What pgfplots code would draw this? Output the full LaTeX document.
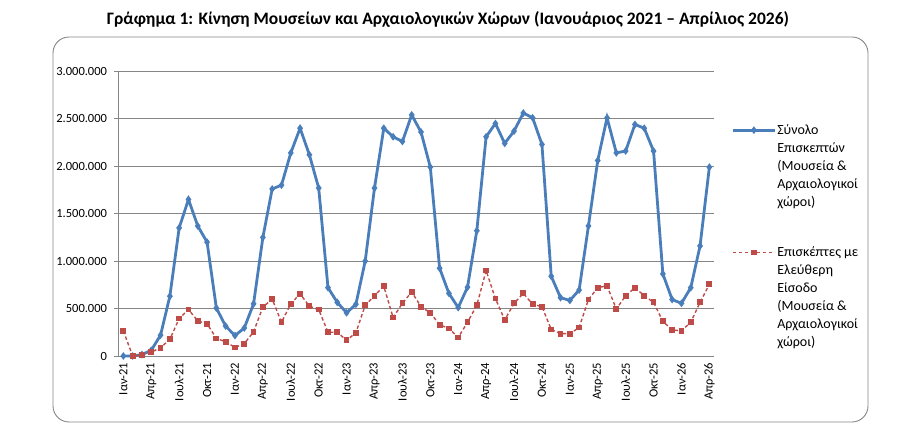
\documentclass[border=0pt]{standalone}
\usepackage{pgfplots}
\pgfplotsset{compat=1.18}
\usepackage{pgfplotstable}
\usepackage{fontspec}
\setmainfont{Carlito}
\definecolor{myblue}{HTML}{4A7EBB}
\definecolor{myred}{HTML}{BE4B48}
\definecolor{mygray}{HTML}{868686}
\pgfplotstableread{
i total free
0 0 265000
1 0 0
2 15000 10000
3 60000 40000
4 220000 88000
5 630000 175000
6 1350000 395000
7 1650000 490000
8 1370000 370000
9 1200000 340000
10 505000 185000
11 315000 150000
12 215000 90000
13 295000 130000
14 550000 255000
15 1250000 515000
16 1760000 600000
17 1800000 355000
18 2140000 550000
19 2400000 655000
20 2120000 525000
21 1770000 490000
22 720000 250000
23 565000 250000
24 455000 165000
25 545000 245000
26 1000000 535000
27 1770000 635000
28 2400000 735000
29 2310000 405000
30 2260000 555000
31 2540000 675000
32 2360000 520000
33 1990000 455000
34 925000 330000
35 660000 290000
36 510000 195000
37 725000 355000
38 1320000 535000
39 2310000 900000
40 2450000 605000
41 2240000 380000
42 2370000 555000
43 2560000 660000
44 2510000 545000
45 2230000 520000
46 840000 280000
47 615000 235000
48 585000 235000
49 695000 300000
50 1370000 595000
51 2060000 720000
52 2510000 740000
53 2140000 495000
54 2160000 635000
55 2440000 720000
56 2400000 635000
57 2160000 565000
58 865000 365000
59 595000 275000
60 555000 265000
61 720000 355000
62 1160000 565000
63 1990000 755000
}\data
\newcommand\lentry[1]{\vtop{\baselineskip=18bp\lineskiplimit=0pt\halign{##\hfil\cr#1\crcr}}}
\begin{document}
\begin{tikzpicture}[x=1bp,y=1bp]
\path[use as bounding box] (0,0) rectangle (900,435);
\draw[mygray, line width=0.9bp, rounded corners=16bp] (53,13) rectangle (868,398);
\node[font=\bfseries\fontsize{17.5bp}{20bp}\selectfont, anchor=base] at (448,410) {Γράφημα 1: Κίνηση Μουσείων και Αρχαιολογικών Χώρων (Ιανουάριος 2021 – Απρίλιος 2026)};
\begin{axis}[
  at={(118.7bp,79bp)}, anchor=south west,
  width=595.3bp, height=284.7bp, scale only axis,
  xmin=-0.5, xmax=63.5, ymin=0, ymax=3000000,
  axis x line*=bottom, axis y line*=left,
  axis line style={mygray, line width=0.9bp, -},
  xtick={0,3,...,63},
  xticklabels={Ιαν-21,Απρ-21,Ιουλ-21,Οκτ-21,Ιαν-22,Απρ-22,Ιουλ-22,Οκτ-22,Ιαν-23,Απρ-23,Ιουλ-23,Οκτ-23,Ιαν-24,Απρ-24,Ιουλ-24,Οκτ-24,Ιαν-25,Απρ-25,Ιουλ-25,Οκτ-25,Ιαν-26,Απρ-26},
  minor xtick={-0.5,0.5,...,63.5},
  ytick={0,500000,...,3000000},
  scaled y ticks=false,
  /pgf/number format/fixed,
  /pgf/number format/1000 sep={.},
  /pgf/number format/assume math mode=true,
  ymajorgrids, grid style={mygray, line width=0.9bp},
  tick align=outside,
  xtick style={draw=none},
  minor x tick style={mygray, line width=0.8bp},
  minor tick length=4.5bp,
  ytick style={mygray, line width=0.8bp},
  major tick length=4.5bp,
  tick label style={font=\fontsize{12.5bp}{15bp}\selectfont},
  x tick label style={rotate=90, anchor=east, inner sep=2bp},
  y tick label style={inner sep=2bp, xshift=-5bp},
  clip=false,
  legend style={at={(1.024,0.825)}, anchor=north west, draw=none, fill=none,
    font=\fontsize{14bp}{18bp}\selectfont, row sep=109bp,
    cells={anchor=base west},
    nodes={inner sep=1bp}},
  legend image code/.code={\draw[mark repeat=2, mark phase=2, yshift=4bp, #1] plot coordinates {(0bp,0bp) (21bp,0bp) (42bp,0bp)};},
]
\addplot[myblue, line width=2.8bp, mark=diamond*, mark size=1.6bp, mark options={solid}] table[x=i, y=total] {\data};
\addlegendentry{\lentry{Σύνολο\cr Επισκεπτών\cr (Μουσεία \&\cr Αρχαιολογικοί\cr χώροι)}}
\addplot[myred, line width=1.4bp, dash pattern=on 3.5bp off 2.5bp, mark=square*, mark size=2.2bp, mark options={solid}] table[x=i, y=free] {\data};
\addlegendentry{\lentry{Επισκέπτες με\cr Ελεύθερη\cr Είσοδο\cr (Μουσεία \&\cr Αρχαιολογικοί\cr χώροι)}}
\end{axis}
\end{tikzpicture}
\end{document}
